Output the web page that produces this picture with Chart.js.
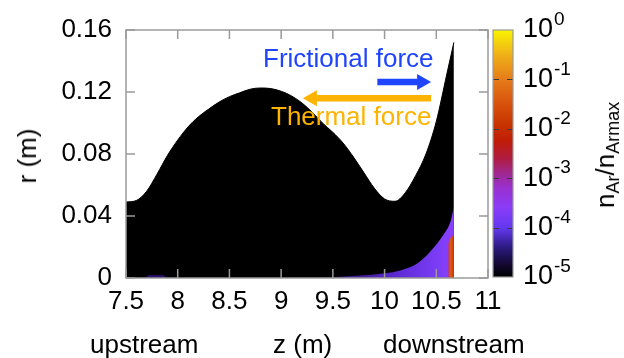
<!DOCTYPE html>
<html>
<head>
<meta charset="utf-8">
<script src="https://cdn.jsdelivr.net/npm/chart.js@4.4.0/dist/chart.umd.min.js"></script>
<style>
  html, body { margin: 0; padding: 0; background: #fff; }
  #wrap { position: relative; width: 624px; height: 358px; overflow: hidden; font-family: 'Liberation Sans', Arial, sans-serif; }
  canvas { position: absolute; top: 0; }
  .lbl { position: absolute; white-space: nowrap; line-height: 1; color: #000; font-size: 26px; }
  .rot { transform: translate(-50%, -50%) rotate(-90deg); }
  sub { font-size: 18px; vertical-align: -5px; }
</style>
</head>
<body>
<div id="wrap">
  <canvas id="main" width="624" height="358" style="left:0"></canvas>
  <canvas id="cbar" width="144" height="358" style="left:480px"></canvas>
  <div class="lbl rot" style="left:27px; top:156px;">r (m)</div>
  <div class="lbl" style="left:90px; top:331px;">upstream</div>
  <div class="lbl" style="left:273px; top:331px;">z (m)</div>
  <div class="lbl" style="left:383px; top:331px;">downstream</div>
  <div class="lbl" style="left:263px; top:45px; color:#1f45fc;">Frictional force</div>
  <div class="lbl" style="left:271px; top:103px; color:#fdb300;">Thermal force</div>
  <div class="lbl rot" style="left:607px; top:155px;">n<sub>Ar</sub>/n<sub>Armax</sub></div>
</div>
<script>
// wall contour r(z)
const zWall = [7.5, 7.6, 7.7, 7.8, 7.9, 8.0, 8.1, 8.2, 8.3, 8.4, 8.5, 8.6, 8.7, 8.8, 8.9, 9.0, 9.1, 9.2, 9.3, 9.4, 9.5, 9.6, 9.7, 9.8, 9.9, 10.0, 10.1, 10.2, 10.3, 10.4, 10.5, 10.6, 10.67];
const rWall = [0.049, 0.050, 0.056, 0.067, 0.079, 0.089, 0.0975, 0.104, 0.109, 0.1135, 0.117, 0.1195, 0.1218, 0.1226, 0.1222, 0.1205, 0.1175, 0.113, 0.107, 0.100, 0.094, 0.087, 0.078, 0.068, 0.058, 0.051, 0.0495, 0.055, 0.066, 0.080, 0.101, 0.131, 0.152];

// argon cloud (violet) near the target
const zAr = [7.5, 7.68, 7.72, 7.86, 7.9, 9.3, 9.6, 9.85, 10.0, 10.16, 10.33, 10.48, 10.58, 10.64, 10.67];
const rAr = [0.0, 0.0, 0.002, 0.002, 0.0, 0.0, 0.001, 0.002, 0.003, 0.005, 0.010, 0.020, 0.029, 0.037, 0.046];

// hot strip at the plate
const zHot = [10.61, 10.64, 10.67];
const rHot = [0.022, 0.026, 0.028];

// colour bar
const cbMin = 1e-5;
const cbMax = 1;
const cbExponents = [0, -1, -2, -3, -4, -5];

// force arrows [zFrom, zTo, r]
const frictionArrow = [9.93, 10.45, 0.1265];
const thermalArrow = [10.45, 9.21, 0.116];

const toPts = (zs, rs) => zs.map((z, i) => ({ x: z, y: rs[i] }));

const drawArrow = (ctx, x0, x1, y, color) => {
    const dir = Math.sign(x1 - x0);
    const headL = 14, headH = 8, body = 3.2;
    ctx.save();
    ctx.fillStyle = color;
    ctx.beginPath();
    ctx.moveTo(x0, y - body);
    ctx.lineTo(x1 - dir * headL, y - body);
    ctx.lineTo(x1 - dir * headL, y - headH);
    ctx.lineTo(x1, y);
    ctx.lineTo(x1 - dir * headL, y + headH);
    ctx.lineTo(x1 - dir * headL, y + body);
    ctx.lineTo(x0, y + body);
    ctx.closePath();
    ctx.fill();
    ctx.restore();
};

const frameTicks = {
    id: 'frameTicks',
    afterDraw(chart) {
        const { ctx, chartArea: a, scales } = chart;
        ctx.save();
        ctx.strokeStyle = '#9a9a9a';
        ctx.lineWidth = 1.5;
        scales.x.ticks.forEach(t => {
            const x = scales.x.getPixelForValue(t.value);
            ctx.beginPath();
            ctx.moveTo(x, a.bottom); ctx.lineTo(x, a.bottom - 9);
            ctx.moveTo(x, a.top); ctx.lineTo(x, a.top + 9);
            ctx.stroke();
        });
        scales.y.ticks.forEach(t => {
            const y = scales.y.getPixelForValue(t.value);
            ctx.beginPath();
            ctx.moveTo(a.left, y); ctx.lineTo(a.left + 9, y);
            ctx.moveTo(a.right, y); ctx.lineTo(a.right - 9, y);
            ctx.stroke();
        });
        ctx.strokeRect(a.left, a.top, a.right - a.left, a.bottom - a.top);
        ctx.restore();
    },
    afterDatasetsDraw(chart) {
        const { ctx, scales } = chart;
        const x = scales.x, y = scales.y;
        drawArrow(ctx, x.getPixelForValue(frictionArrow[0]), x.getPixelForValue(frictionArrow[1]), y.getPixelForValue(frictionArrow[2]), '#1f45fc');
        drawArrow(ctx, x.getPixelForValue(thermalArrow[0]), x.getPixelForValue(thermalArrow[1]), y.getPixelForValue(thermalArrow[2]), '#fdb300');
    }
};

const hGrad = (stops) => (c) => {
    const { chart } = c;
    const a = chart.chartArea;
    if (!a) return stops[0][1];
    const xs = chart.scales.x;
    const g = chart.ctx.createLinearGradient(xs.getPixelForValue(stops[0][0]), 0, xs.getPixelForValue(stops[stops.length - 1][0]), 0);
    const span = stops[stops.length - 1][0] - stops[0][0];
    stops.forEach(s => g.addColorStop((s[0] - stops[0][0]) / span, s[1]));
    return g;
};

const tickFont = { family: "'Liberation Sans', Arial, sans-serif", size: 26 };

new Chart(document.getElementById('main'), {
    type: 'line',
    data: {
        datasets: [
            { data: toPts(zWall, rWall), fill: 'origin', backgroundColor: '#000', borderColor: '#000', borderWidth: 1, pointRadius: 0, cubicInterpolationMode: 'monotone', order: 3 },
            { data: toPts(zAr, rAr), fill: 'origin', backgroundColor: hGrad([[9.4, '#2a0e66'], [10.1, '#5a2ad0'], [10.5, '#7b3cf5'], [10.67, '#8a40ff']]), borderWidth: 0, pointRadius: 0, cubicInterpolationMode: 'monotone', order: 2 },
            { data: toPts(zHot, rHot), fill: 'origin', backgroundColor: hGrad([[10.61, '#a030b0'], [10.64, '#e05a10'], [10.67, '#c83000']]), borderWidth: 0, pointRadius: 0, tension: 0, order: 1 }
        ]
    },
    options: {
        responsive: false,
        animation: false,
        layout: { padding: { left: 0, right: 136, top: 30, bottom: 0 } },
        plugins: { legend: { display: false }, tooltip: { enabled: false } },
        scales: {
            x: {
                type: 'linear', min: 7.5, max: 11,
                afterFit: s => { s.height = 80; },
                grid: { display: false, drawTicks: false },
                border: { display: false },
                ticks: { stepSize: 0.5, autoSkip: false, color: '#000', font: tickFont, padding: 8, maxRotation: 0, callback: v => String(v) }
            },
            y: {
                type: 'linear', min: 0, max: 0.16,
                afterFit: s => { s.width = 126; },
                grid: { display: false, drawTicks: false },
                border: { display: false },
                ticks: { stepSize: 0.04, color: '#000', font: tickFont, padding: 14, callback: v => v === 0 ? '0' : v.toFixed(2) }
            }
        }
    },
    plugins: [frameTicks]
});

const cbStops = [
    [0, '#000000'], [0.05, '#120830'], [0.12, '#2c1a80'], [0.2, '#6438f0'], [0.28, '#8a3cf8'],
    [0.36, '#9a30d0'], [0.42, '#a02890'], [0.48, '#b01c40'], [0.55, '#c01c08'], [0.62, '#c83400'],
    [0.72, '#db5a10'], [0.8, '#e57c1a'], [0.9, '#f0b018'], [1, '#f8f400']
];

const cbDecor = {
    id: 'cbDecor',
    afterDraw(chart) {
        const { ctx, chartArea: a, scales } = chart;
        const ys = scales.y;
        ctx.save();
        ctx.strokeStyle = '#3a3a3a';
        ctx.lineWidth = 1;
        ctx.setLineDash([6, 8]);
        cbExponents.forEach(e => {
            if (e === 0 || e === -5) return;
            const y = Math.round(ys.getPixelForValue(Math.pow(10, e))) + 0.5;
            ctx.beginPath(); ctx.moveTo(a.left, y); ctx.lineTo(a.right, y); ctx.stroke();
        });
        ctx.setLineDash([]);
        ctx.strokeStyle = '#9a9a9a';
        ctx.lineWidth = 1.2;
        ctx.strokeRect(a.left, a.top, a.right - a.left, a.bottom - a.top);
        ctx.fillStyle = '#000';
        ctx.textBaseline = 'middle';
        cbExponents.forEach(e => {
            const y = ys.getPixelForValue(Math.pow(10, e));
            ctx.font = "27px 'Liberation Sans', Arial, sans-serif";
            const x = a.right + 10;
            ctx.fillText('10', x, y);
            const w = ctx.measureText('10').width;
            ctx.font = "19px 'Liberation Sans', Arial, sans-serif";
            ctx.fillText(String(e), x + w + 1, y - 10);
        });
        ctx.restore();
    }
};

new Chart(document.getElementById('cbar'), {
    type: 'bar',
    data: {
        labels: ['n'],
        datasets: [{
            data: [[cbMin, cbMax]],
            barPercentage: 1, categoryPercentage: 1, borderWidth: 0,
            backgroundColor: (c) => {
                const a = c.chart.chartArea;
                if (!a) return '#000';
                const g = c.chart.ctx.createLinearGradient(0, a.bottom, 0, a.top);
                cbStops.forEach(s => g.addColorStop(s[0], s[1]));
                return g;
            }
        }]
    },
    options: {
        responsive: false,
        animation: false,
        layout: { padding: { left: 13, right: 111, top: 30, bottom: 81 } },
        plugins: { legend: { display: false }, tooltip: { enabled: false } },
        scales: {
            x: { display: false },
            y: { type: 'logarithmic', min: cbMin, max: cbMax, display: false }
        }
    },
    plugins: [cbDecor]
});
</script>
</body>
</html>
